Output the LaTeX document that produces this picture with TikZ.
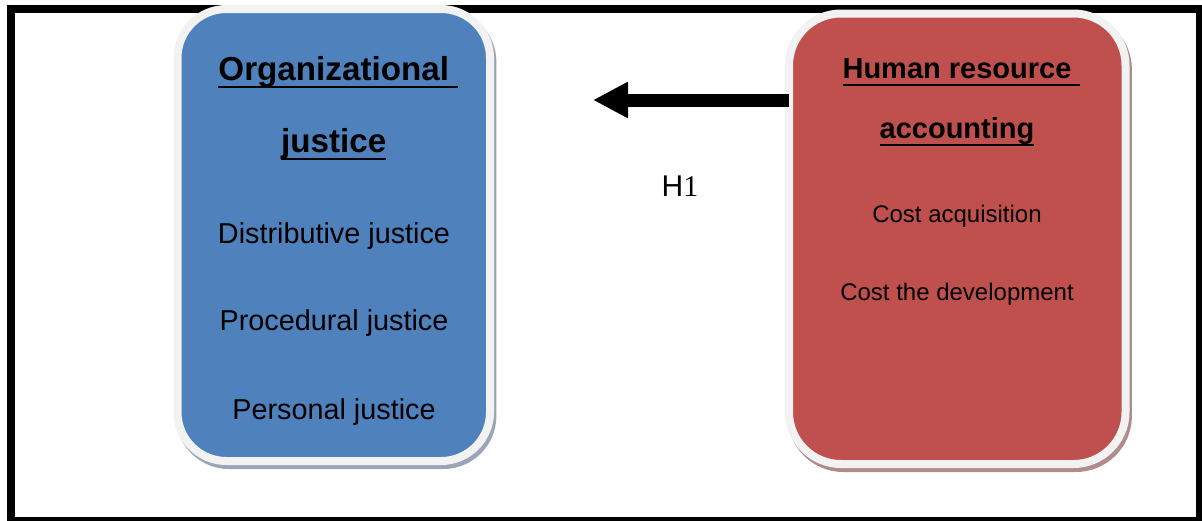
\documentclass[tikz,border=0pt]{standalone}
\usepackage{fontspec}
\setmainfont{Liberation Sans}
\newfontfamily\timesfont{Liberation Serif}
\usetikzlibrary{arrows.meta}

\definecolor{ojblue}{HTML}{4F81BD}
\definecolor{hrared}{HTML}{C0504D}
\definecolor{rimgray}{HTML}{F2F2F2}
\definecolor{ojshadow}{HTML}{9AA5B6}
\definecolor{hrashadow}{HTML}{B08B8B}

% underline that may run on past the text
\newcommand{\ulhead}[2]{\setbox0\hbox{#1#2}\rlap{\rule[-4pt]{\wd0}{1.25pt}}#1}

\tikzset{
	card/.style={rectangle, draw=rimgray, line width=4pt, inner sep=0pt, outer sep=0pt},
	ojcard/.style={card, fill=ojblue, rounded corners=24.5pt,
		minimum width=156.25pt, minimum height=226pt,
		preaction={draw=ojshadow, fill=ojshadow, line width=4pt, transform canvas={shift={(1.2pt,-2pt)}}}},
	hracard/.style={card, fill=hrared, rounded corners=26pt,
		minimum width=168.25pt, minimum height=225.25pt,
		preaction={draw=hrashadow, fill=hrashadow, line width=4pt, transform canvas={shift={(1.2pt,-2pt)}}}},
	ojhead/.style={anchor=base, inner sep=0pt, font=\fontsize{16.6}{18}\selectfont\bfseries},
	hrahead/.style={anchor=base, inner sep=0pt, font=\fontsize{14.5}{16}\selectfont\bfseries},
	ojitem/.style={anchor=base, inner sep=0pt, font=\fontsize{14.4}{16}\selectfont},
	hraitem/.style={anchor=base, inner sep=0pt, font=\fontsize{12}{14}\selectfont},
	bigarrow/.style={line width=6.5pt, -{Triangle[length=17.5pt, width=17pt]}}
}

\begin{document}
\begin{tikzpicture}[x=0.5pt, y=-0.5pt]
\useasboundingbox (0,0) rectangle (1202,520);
\clip (0,0) rectangle (1202,520);

% frame
\draw[line width=4pt] (11,9) rectangle (1200,521);

\node[ojcard] (oj) at (333.75,235) {};
\node[hracard] (hra) at (957.25,238.75) {};

\node[ojhead] (ojh1) at (333.75,80) {\ulhead{Organizational}{\ }};
\node[ojhead] (ojh2) at (333.75,152) {\ulhead{justice}{}};
\foreach [count=\i] \y/\txt in {
	243/Distributive justice
	,330/Procedural justice
	,419/Personal justice
}{
	\node[ojitem] (oj\i) at (334,\y) {\txt};
}

\node[hrahead] (hrah1) at (957,78) {\ulhead{Human resource}{\ }};
\node[hrahead] (hrah2) at (957,138) {\ulhead{accounting}{}};
\foreach [count=\i] \y/\txt in {
	222/Cost acquisition
	,300/Cost the development
}{
	\node[hraitem] (hra\i) at (957,\y) {\txt};
}

\coordinate (tip) at (593,100);
\draw[bigarrow] (hra.west |- tip) -- (tip);
\node[anchor=base, inner sep=0pt, font=\fontsize{15}{17}\selectfont] (h1) at (680,196) {H\timesfont 1};

\end{tikzpicture}
\end{document}
